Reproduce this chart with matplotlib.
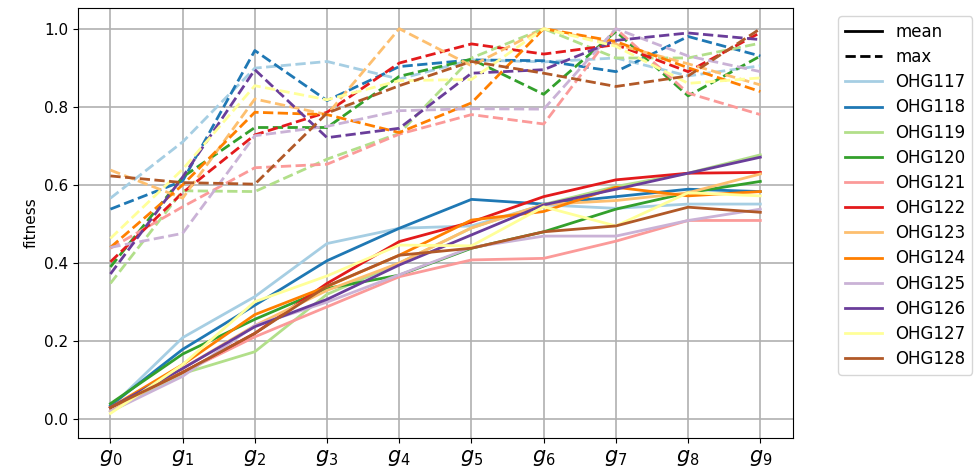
import numpy as np
import matplotlib
matplotlib.use("Agg")
import matplotlib.pyplot as plt
from matplotlib.lines import Line2D

generations = [r"$g_{%d}$" % i for i in range(10)]
names = ["OHG117", "OHG118", "OHG119", "OHG120", "OHG121", "OHG122",
         "OHG123", "OHG124", "OHG125", "OHG126", "OHG127", "OHG128"]

# mean fitness per generation
mean_117 = [0.030, 0.209, 0.314, 0.450, 0.489, 0.495, 0.549, 0.540, 0.551, 0.551]
mean_118 = [0.035, 0.179, 0.292, 0.406, 0.489, 0.563, 0.551, 0.570, 0.589, 0.583]
mean_119 = [0.020, 0.117, 0.173, 0.320, 0.400, 0.490, 0.550, 0.596, 0.630, 0.677]
mean_120 = [0.040, 0.167, 0.256, 0.335, 0.369, 0.438, 0.480, 0.538, 0.580, 0.609]
mean_121 = [0.030, 0.120, 0.211, 0.288, 0.365, 0.408, 0.412, 0.456, 0.509, 0.509]
mean_122 = [0.030, 0.120, 0.220, 0.348, 0.455, 0.505, 0.570, 0.613, 0.630, 0.632]
mean_123 = [0.020, 0.130, 0.240, 0.330, 0.400, 0.490, 0.550, 0.560, 0.580, 0.628]
mean_124 = [0.030, 0.140, 0.268, 0.340, 0.420, 0.510, 0.532, 0.594, 0.572, 0.583]
mean_125 = [0.020, 0.110, 0.240, 0.300, 0.370, 0.440, 0.469, 0.469, 0.509, 0.538]
mean_126 = [0.030, 0.130, 0.237, 0.307, 0.395, 0.472, 0.549, 0.589, 0.630, 0.671]
mean_127 = [0.015, 0.140, 0.301, 0.367, 0.446, 0.444, 0.544, 0.495, 0.580, 0.572]
mean_128 = [0.030, 0.120, 0.220, 0.341, 0.420, 0.438, 0.480, 0.495, 0.543, 0.530]

# max fitness per generation
max_117 = [0.566, 0.710, 0.899, 0.916, 0.871, 0.920, 0.915, 0.925, 0.879, 0.905]
max_118 = [0.538, 0.610, 0.944, 0.816, 0.903, 0.920, 0.918, 0.890, 0.980, 0.930]
max_119 = [0.348, 0.585, 0.583, 0.666, 0.732, 0.925, 1.000, 0.925, 0.925, 0.963]
max_120 = [0.390, 0.620, 0.747, 0.747, 0.878, 0.922, 0.832, 0.993, 0.828, 0.930]
max_121 = [0.438, 0.544, 0.644, 0.653, 0.730, 0.780, 0.756, 1.000, 0.835, 0.780]
max_122 = [0.403, 0.580, 0.728, 0.786, 0.912, 0.961, 0.935, 0.959, 0.890, 0.990]
max_123 = [0.638, 0.566, 0.820, 0.780, 1.000, 0.905, 1.000, 0.960, 0.910, 0.856]
max_124 = [0.440, 0.600, 0.786, 0.780, 0.734, 0.810, 1.000, 0.967, 0.900, 0.839]
max_125 = [0.440, 0.476, 0.726, 0.750, 0.790, 0.795, 0.794, 1.000, 0.930, 0.890]
max_126 = [0.372, 0.620, 0.895, 0.721, 0.745, 0.886, 0.895, 0.970, 0.989, 0.972]
max_127 = [0.463, 0.640, 0.854, 0.818, 0.867, 0.870, 1.000, 0.955, 0.860, 0.874]
max_128 = [0.623, 0.606, 0.602, 0.784, 0.854, 0.916, 0.886, 0.852, 0.879, 1.000]

means = [mean_117, mean_118, mean_119, mean_120, mean_121, mean_122,
         mean_123, mean_124, mean_125, mean_126, mean_127, mean_128]
maxes = [max_117, max_118, max_119, max_120, max_121, max_122,
         max_123, max_124, max_125, max_126, max_127, max_128]

colors = plt.cm.Paired(np.arange(12))
x = np.arange(len(generations))

fig = plt.figure(figsize=(9.74, 4.69), dpi=100)
ax = fig.add_axes([0.080, 0.066, 0.734, 0.917])

for i in range(len(names)):
    ax.plot(x, means[i], color=colors[i], linewidth=2)
    ax.plot(x, maxes[i], color=colors[i], linewidth=2, linestyle="--")

ax.set_xticks(x)
ax.set_xticklabels(generations, fontsize=15)
ax.tick_params(axis="y", labelsize=11)
ax.set_ylabel("fitness", fontsize=11)
ax.set_ylim(-0.048, 1.053)
ax.grid(True, linewidth=1.2)

handles = [Line2D([0], [0], color="k", lw=2),
           Line2D([0], [0], color="k", lw=2, ls="--")]
labels = ["mean", "max"]
for i in range(len(names)):
    handles.append(Line2D([0], [0], color=colors[i], lw=2))
    labels.append(names[i])
ax.legend(handles, labels, loc="upper left", bbox_to_anchor=(1.052, 1.0),
          fontsize=12, labelspacing=0.43, handlelength=2.2)

plt.savefig("out.png", dpi=100)
